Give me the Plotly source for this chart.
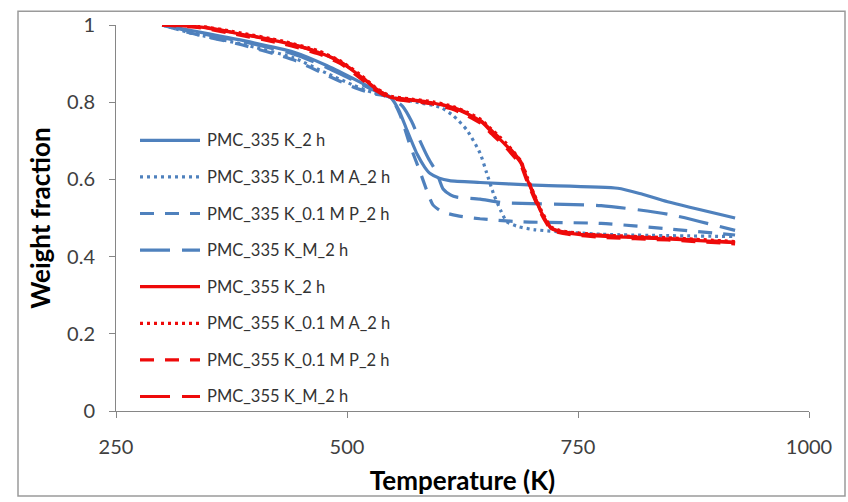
import plotly.graph_objects as go

# ---- data: temperature (K) vs weight fraction ----
t_335_2h = [300, 333, 387, 442, 478, 506, 528, 547, 556, 565, 576, 584, 590, 600, 611, 644, 702, 793, 819, 847, 920]
w_335_2h = [1.0, 0.985, 0.96, 0.93, 0.895, 0.862, 0.835, 0.813, 0.78, 0.727, 0.665, 0.632, 0.615, 0.603, 0.597, 0.592, 0.585, 0.577, 0.562, 0.542, 0.50]

t_335_A = [300, 333, 387, 442, 478, 506, 528, 547, 575, 601, 615, 630, 644, 651, 659, 667, 673, 685, 702, 775, 920]
w_335_A = [1.0, 0.978, 0.95, 0.915, 0.875, 0.845, 0.825, 0.813, 0.80, 0.787, 0.765, 0.727, 0.668, 0.618, 0.56, 0.516, 0.49, 0.478, 0.470, 0.458, 0.452]

t_335_P = [300, 333, 387, 442, 478, 506, 528, 547, 557, 568, 579, 587, 593, 603, 619, 644, 690, 775, 847, 920]
w_335_P = [1.0, 0.978, 0.948, 0.91, 0.87, 0.84, 0.822, 0.812, 0.77, 0.69, 0.62, 0.567, 0.534, 0.516, 0.506, 0.498, 0.49, 0.486, 0.472, 0.456]

t_335_M = [300, 333, 387, 442, 478, 506, 528, 547, 560, 570, 579, 588, 597, 604, 612, 619, 644, 667, 775, 847, 920]
w_335_M = [1.0, 0.982, 0.957, 0.925, 0.89, 0.858, 0.832, 0.813, 0.79, 0.75, 0.70, 0.655, 0.618, 0.575, 0.56, 0.554, 0.549, 0.54, 0.532, 0.51, 0.468]

t_355 = [300, 340, 377, 431, 468, 492, 514, 532, 547, 570, 593, 615, 630, 645, 655, 665, 673, 688, 695, 702, 710, 716, 721, 730, 739, 775, 847, 920]
w_355_2h = [1.0, 0.995, 0.98, 0.955, 0.93, 0.905, 0.868, 0.833, 0.813, 0.805, 0.798, 0.785, 0.77, 0.75, 0.727, 0.705, 0.686, 0.643, 0.60, 0.56, 0.516, 0.49, 0.473, 0.465, 0.461, 0.453, 0.446, 0.436]
w_355_A = [1.0, 0.997, 0.983, 0.958, 0.934, 0.908, 0.872, 0.836, 0.816, 0.808, 0.801, 0.789, 0.774, 0.755, 0.733, 0.711, 0.692, 0.648, 0.606, 0.565, 0.521, 0.494, 0.477, 0.468, 0.464, 0.456, 0.449, 0.439]
w_355_P = [1.0, 0.993, 0.977, 0.951, 0.926, 0.901, 0.863, 0.829, 0.810, 0.802, 0.795, 0.781, 0.765, 0.745, 0.721, 0.699, 0.680, 0.637, 0.594, 0.555, 0.511, 0.486, 0.470, 0.462, 0.458, 0.450, 0.443, 0.433]
w_355_M = [1.0, 0.996, 0.981, 0.956, 0.931, 0.906, 0.870, 0.834, 0.814, 0.806, 0.799, 0.786, 0.772, 0.752, 0.730, 0.708, 0.689, 0.646, 0.603, 0.562, 0.518, 0.492, 0.475, 0.466, 0.462, 0.455, 0.447, 0.437]

series_names = [
    "PMC_335 K_2 h", "PMC_335 K_0.1 M A_2 h", "PMC_335 K_0.1 M P_2 h", "PMC_335 K_M_2 h",
    "PMC_355 K_2 h", "PMC_355 K_0.1 M A_2 h", "PMC_355 K_0.1 M P_2 h", "PMC_355 K_M_2 h",
]
series_x = [t_335_2h, t_335_A, t_335_P, t_335_M, t_355, t_355, t_355, t_355]
series_y = [w_335_2h, w_335_A, w_335_P, w_335_M, w_355_2h, w_355_A, w_355_P, w_355_M]

x_ticks = [250, 500, 750, 1000]
y_ticks = [0, 0.2, 0.4, 0.6, 0.8, 1]

# ---- styling ----
BLUE = "#4F81BD"
RED = "#EE0A0A"
colors = [BLUE] * 4 + [RED] * 4
LW = 3.2
dashes = ["solid", "3px,4px", "14px,11px", "30px,12px"] * 2
AXIS_GRAY = "#868686"
FONT = "Lato"

W, H = 848, 502
ML, MR, MT, MB = 116, 39, 19, 88
PW, PH = W - ML - MR, H - MT - MB


def to_paper(px, py):
    return (px - ML) / PW, (H - MB - py) / PH


fig = go.Figure()
for name, xs, ys, c, d in zip(series_names, series_x, series_y, colors, dashes):
    fig.add_trace(go.Scatter(
        x=xs, y=ys, mode="lines", name=name, showlegend=False,
        line=dict(color=c, width=LW, dash=d, shape="spline", smoothing=0.6),
    ))

# legend block drawn inside the plot area
shapes = []
annotations = []
row_y0, row_step = 137, 37.45
for i, (name, c, d) in enumerate(zip(series_names, colors, dashes)):
    py = row_y0 + i * row_step
    x0, y0 = to_paper(140, py)
    x1, _ = to_paper(200, py)
    shapes.append(dict(type="line", xref="paper", yref="paper", x0=x0, x1=x1, y0=y0, y1=y0,
                       line=dict(color=c, width=LW, dash=d)))
    tx, _ = to_paper(205, py)
    annotations.append(dict(xref="paper", yref="paper", x=tx, y=y0, text=name, showarrow=False,
                            xanchor="left", yanchor="middle",
                            font=dict(family=FONT, size=16.5, color="#333333")))

# chart frame
bx0, by0 = to_paper(18, 501)
bx1, by1 = to_paper(845, 5)
shapes.append(dict(type="rect", xref="paper", yref="paper", x0=bx0, x1=bx1, y0=by0, y1=by1,
                   line=dict(color="#9A9A9A", width=1.5), layer="below"))

fig.update_layout(
    width=W, height=H,
    margin=dict(l=ML, r=MR, t=MT, b=MB),
    paper_bgcolor="white", plot_bgcolor="white",
    showlegend=False,
    shapes=shapes, annotations=annotations,
    font=dict(family=FONT, color="#404040"),
)
fig.update_xaxes(
    range=[250, 1000], tickvals=x_ticks, ticktext=[str(v) for v in x_ticks],
    showgrid=False, zeroline=False, showline=True, linecolor=AXIS_GRAY, linewidth=1,
    ticks="outside", ticklen=6, tickcolor=AXIS_GRAY, tickfont=dict(size=20, color="#404040"),
    ticklabelstandoff=12,
    title=dict(text="<b>Temperature (K)</b>", font=dict(size=26, color="black"), standoff=14),
)
fig.update_yaxes(
    range=[0, 1], tickvals=y_ticks, ticktext=["0", "0.2", "0.4", "0.6", "0.8", "1"],
    showgrid=False, zeroline=False, showline=True, linecolor=AXIS_GRAY, linewidth=1,
    ticks="outside", ticklen=6, tickcolor=AXIS_GRAY, tickfont=dict(size=20, color="#404040"),
    ticklabelstandoff=10,
    title=dict(text="<b>Weight fraction</b>", font=dict(size=26, color="black"), standoff=8),
)

fig.write_html("out.html")
